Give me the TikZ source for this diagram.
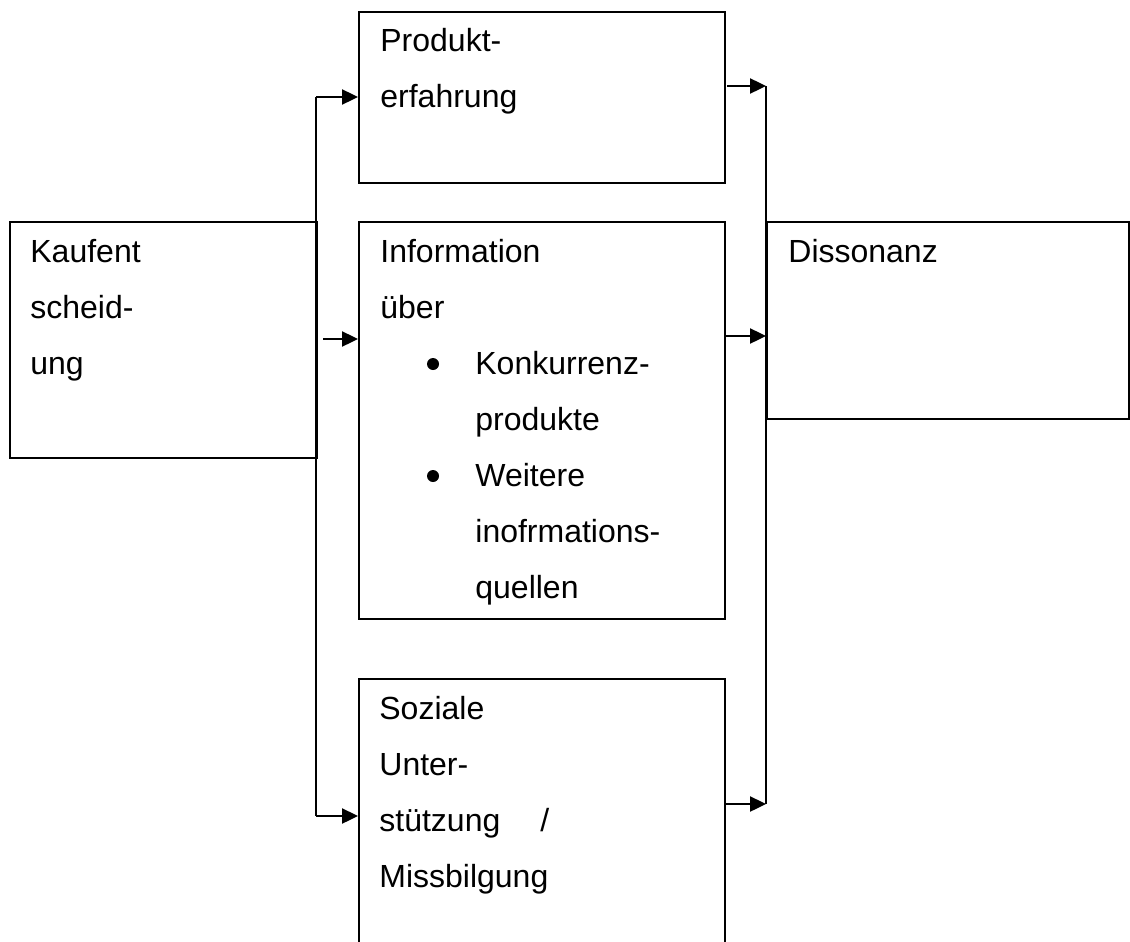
\documentclass[tikz,border=0pt]{standalone}
\usepackage{fontspec}
\setmainfont{Liberation Sans}
\usetikzlibrary{positioning,arrows.meta}

\tikzset{
  box/.style={draw,line width=1.1pt,anchor=north west,inner sep=0pt},
  txt/.style={anchor=base west,inner sep=0pt,font=\fontsize{16}{28}\selectfont},
  dot/.style={circle,fill,inner sep=0pt,minimum size=6pt},
  arr/.style={line width=1.2pt,-{Triangle[length=8pt,width=7.5pt]}},
  bus/.style={line width=1.2pt}
}

\begin{document}
\begin{tikzpicture}[x=0.5pt,y=-0.5pt]
  \useasboundingbox (0,0) rectangle (1130,942);
  \clip (0,0) rectangle (1130,942);
  % boxes
  \node[box,minimum width=153.5pt,minimum height=118pt] (kauf) at (9,221) {};
  \node[box,minimum width=183pt,minimum height=85.5pt] (prod) at (358,11) {};
  \node[box,minimum width=183pt,minimum height=198.5pt] (info) at (358,221) {};
  \node[box,minimum width=183pt,minimum height=160pt] (soz) at (358,678) {};
  \node[box,minimum width=181pt,minimum height=98.5pt] (diss) at (766,221) {};
  % texts
  \foreach \i/\t in {0/Kaufent,1/scheid-,2/ung}
    \node[txt] (kauf-\i) at (30,262+56*\i) {\t};
  \foreach \i/\t in {0/Produkt-,1/erfahrung}
    \node[txt] (prod-\i) at (380,51+56*\i) {\t};
  \foreach \i/\t in {0/Information,1/über}
    \node[txt] (info-\i) at (380,262+56*\i) {\t};
  \foreach \i/\t in {2/Konkurrenz-,3/produkte,4/Weitere,5/inofrmations-,6/quellen}
    \node[txt] (info-\i) at (475,262+56*\i) {\t};
  \node[dot] (bul-a) at (433,364) {};
  \node[dot] (bul-b) at (433,476) {};
  \foreach \i/\t in {0/Soziale,1/Unter-,2/{stützung\hspace{20pt}/},3/Missbilgung}
    \node[txt] (soz-\i) at (379,719+56*\i) {\t};
  \node[txt] (diss-0) at (788,262) {Dissonanz};
  % left bus
  \coordinate (lbtop) at (316,97);
  \coordinate (lbbot) at (316,816);
  \coordinate (infoin) at (323,339);
  \draw[bus] (lbtop) -- (lbbot);
  \draw[arr] (lbtop) -- (lbtop -| prod.west);
  \draw[arr] (infoin) -- (infoin -| info.west);
  \draw[arr] (lbbot) -- (lbbot -| soz.west);
  % right bus
  \coordinate (rbtop) at (766,86);
  \coordinate (rbmid) at (766,336);
  \coordinate (rbbot) at (766,804);
  \coordinate (prodout) at (727,86);
  \draw[bus] (rbtop) -- (rbbot);
  \draw[arr] (prodout) -- (rbtop);
  \draw[arr] (rbmid -| info.east) -- (rbmid);
  \draw[arr] (rbbot -| soz.east) -- (rbbot);
\end{tikzpicture}
\end{document}
